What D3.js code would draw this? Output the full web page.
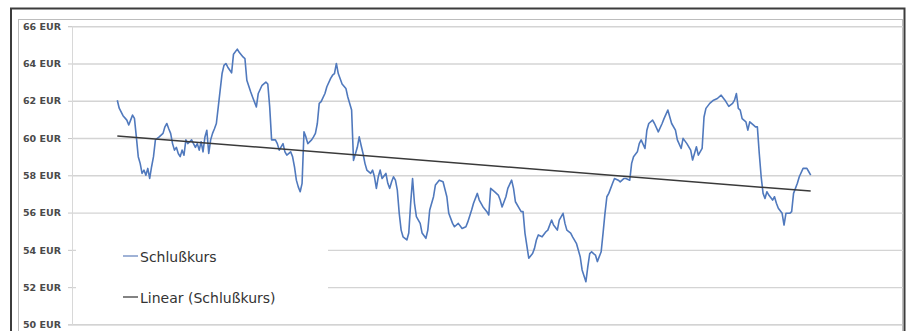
<!DOCTYPE html>
<html>
<head>
<meta charset="utf-8">
<script src="https://cdn.jsdelivr.net/npm/d3@7"></script>
<style>
  html, body { margin: 0; padding: 0; background: #fff; }
  svg { display: block; }
</style>
</head>
<body>
<svg id="chart" width="909" height="331"></svg>
<script>
// Daily closing price (EUR), indexed by calendar day of the period
const days = [0,1,3,5,6,7,8,9,10,11,12,13,14,15,16,17,18,19,20,21,22,24,25,26,27,28,29,30,31,32,33,34,35,36,37,38,39,40,41,42,43,44,45,46,47,48,49,50,51,52,53,54,55,56,57,58,60,61,63,64,66,67,68,70,71,73,74,76,78,79,80,81,83,84,85,87,88,89,91,92,93,94,95,96,97,98,99,100,102,103,104,105,106,107,109,110,112,113,114,115,116,118,120,121,123,124,126,127,128,129,130,131,133,134,135,136,137,138,139,141,142,143,144,145,146,147,148,149,150,152,153,154,155,156,157,159,160,162,163,164,166,167,169,171,173,174,176,177,179,181,183,184,186,187,189,190,192,194,195,196,198,200,201,202,204,205,207,208,209,211,212,213,214,216,218,219,220,221,223,225,226,228,229,231,232,234,235,236,238,239,241,243,244,246,247,248,249,250,251,252,254,255,256,257,258,260,261,263,264,266,267,269,270,271,273,274,275,277,278,279,281,282,284,286,287,289,291,293,294,296,297,299,301,302,303,304,305,307,308,309,311,313,315,317,319,321,323,324,325,326,327,328,330,331,332,334,335,336,337,338,339,340,341,342,344,345,346,347,349,350,351,353,354,355,357,358,360,362,363,364];
const closes = [62.03,61.60,61.20,60.96,60.70,60.96,61.23,61.05,60.06,59.00,58.64,58.10,58.28,58.00,58.37,57.83,58.46,59.00,59.90,59.98,60.06,60.25,60.60,60.78,60.50,60.25,59.70,59.35,59.50,59.17,59.00,59.35,59.08,59.90,59.70,59.80,59.90,59.70,59.50,59.70,59.35,59.80,59.26,60.06,60.42,59.17,59.90,60.25,60.50,60.78,61.67,62.57,63.46,63.90,64.00,63.80,63.50,64.50,64.77,64.60,64.35,64.26,63.10,62.48,62.20,61.67,62.39,62.83,63.00,62.90,61.67,59.90,59.90,59.70,59.35,59.70,59.26,59.08,59.26,59.00,58.46,57.74,57.38,57.12,57.57,60.33,60.06,59.70,59.90,60.06,60.25,60.78,61.86,61.95,62.39,62.75,63.20,63.37,63.46,64.00,63.46,62.90,62.66,62.20,61.50,58.80,59.50,60.06,59.60,59.17,58.64,58.28,58.10,58.28,57.92,57.30,57.92,58.28,57.83,58.10,57.57,57.30,57.65,57.92,57.74,57.20,55.96,55.06,54.70,54.53,54.90,56.50,57.83,56.50,55.78,55.42,54.90,54.62,55.06,56.14,56.85,57.48,57.74,57.65,56.85,55.96,55.42,55.24,55.42,55.15,55.24,55.50,56.14,56.50,57.03,56.67,56.30,56.05,55.87,57.30,57.12,56.94,56.67,56.30,56.85,57.30,57.74,57.30,56.58,56.23,56.05,56.05,54.90,53.55,53.80,54.08,54.53,54.80,54.70,54.97,55.06,55.60,55.33,55.06,55.60,55.96,55.42,55.06,54.90,54.70,54.35,53.63,52.92,52.29,53.10,53.80,53.90,53.80,53.72,53.37,53.90,54.90,55.96,56.85,57.03,57.57,57.83,57.74,57.65,57.83,57.83,57.74,58.64,59.00,59.26,59.70,59.90,59.44,60.42,60.78,60.96,60.78,60.33,60.78,61.04,61.50,60.78,60.42,59.90,59.44,59.98,59.70,59.35,58.82,59.17,59.53,59.08,59.44,61.13,61.59,61.86,62.03,62.12,62.30,62.03,61.70,61.86,62.03,62.39,61.59,61.50,61.04,60.87,60.42,60.87,60.69,60.60,60.60,59.17,57.92,57.03,56.76,57.12,56.94,56.67,56.85,56.50,56.23,55.96,55.33,55.96,55.96,56.05,57.03,57.57,57.92,58.37,58.37,58.19,58.01];

const yTicks = [50, 52, 54, 56, 58, 60, 62, 64, 66];
const currency = "EUR";
const seriesName = "Schlußkurs";
const trendName = "Linear (Schlußkurs)";

const svg = d3.select("#chart");
const W = 909, H = 331;

// plot area
const plot = { left: 72, right: 903, top: 26.2, bottom: 324.4 };
// the series occupies the inner part of the category axis
const seriesLeft = 117.3, seriesRight = 810.7;

const x = d3.scaleLinear()
  .domain(d3.extent(days))
  .range([seriesLeft, seriesRight]);
const y = d3.scaleLinear()
  .domain([d3.min(yTicks), d3.max(yTicks)])
  .range([plot.bottom, plot.top]);

// background and frames
svg.append("rect").attr("width", W).attr("height", H).attr("fill", "#fff");
svg.append("rect")
  .attr("x", 18.5).attr("y", 19.5).attr("width", 884).attr("height", 330)
  .attr("fill", "none").attr("stroke", "#bdbdbd").attr("stroke-width", 1);
svg.append("path")
  .attr("d", `M11,${H + 5}V8.5H904.5V${H + 5}`)
  .attr("fill", "none").attr("stroke", "#3c3c3c").attr("stroke-width", 2);

// gridlines
const grid = svg.append("g")
  .attr("transform", `translate(${plot.left},0)`)
  .call(d3.axisLeft(y).tickValues(yTicks)
    .tickSize(-(plot.right - plot.left)).tickFormat(""));
grid.select(".domain").remove();
grid.selectAll(".tick line")
  .attr("stroke", d => d === 50 ? "#c4c4c4" : "#d4d4d4")
  .attr("stroke-width", 1.4);

// y axis labels and tick marks
const yAxis = svg.append("g")
  .attr("transform", `translate(${plot.left},0)`)
  .call(d3.axisLeft(y).tickValues(yTicks).tickSize(4).tickPadding(7)
    .tickFormat(d => `${d} ${currency}`));
yAxis.select(".domain").attr("stroke", "#d8d8d8").attr("stroke-width", 1);
yAxis.selectAll(".tick line").attr("stroke", "#c8c8c8");
yAxis.selectAll(".tick text")
  .attr("font-family", "'DejaVu Sans', sans-serif")
  .attr("font-size", 9.5)
  .attr("font-weight", "bold")
  .attr("fill", "#4a4a4a")
  .attr("dy", "0.34em");

// closing price line
const pts = days.map((d, i) => [d, closes[i]]);
svg.append("path")
  .datum(pts)
  .attr("fill", "none")
  .attr("stroke", "#5079bd")
  .attr("stroke-width", 1.6)
  .attr("stroke-linejoin", "round")
  .attr("d", d3.line().x(d => x(d[0])).y(d => y(d[1])));

// linear trend (least squares)
const n = pts.length;
const mx = d3.mean(days), my = d3.mean(closes);
let sxy = 0, sxx = 0;
pts.forEach(([d, v]) => { sxy += (d - mx) * (v - my); sxx += (d - mx) * (d - mx); });
const slope = sxy / sxx, icpt = my - slope * mx;
const [d0, d1] = d3.extent(days);
svg.append("line")
  .attr("x1", x(d0)).attr("y1", y(icpt + slope * d0))
  .attr("x2", x(d1)).attr("y2", y(icpt + slope * d1))
  .attr("stroke", "#3a3a3a").attr("stroke-width", 1.5);

// legend
const legend = svg.append("g");
legend.append("rect")
  .attr("x", 76).attr("y", 229).attr("width", 252).attr("height", 77)
  .attr("fill", "#fff");
const items = [
  { name: seriesName, color: "#7f98c8", yPos: 256 },
  { name: trendName, color: "#5a5a5a", yPos: 297 }
];
items.forEach(it => {
  legend.append("line")
    .attr("x1", 123).attr("x2", 138).attr("y1", it.yPos).attr("y2", it.yPos)
    .attr("stroke", it.color).attr("stroke-width", 1.5);
  legend.append("text")
    .attr("x", 140).attr("y", it.yPos + 5.5)
    .attr("font-family", "'DejaVu Sans', sans-serif")
    .attr("font-size", 14)
    .attr("fill", "#333")
    .text(it.name);
});
</script>
</body>
</html>
